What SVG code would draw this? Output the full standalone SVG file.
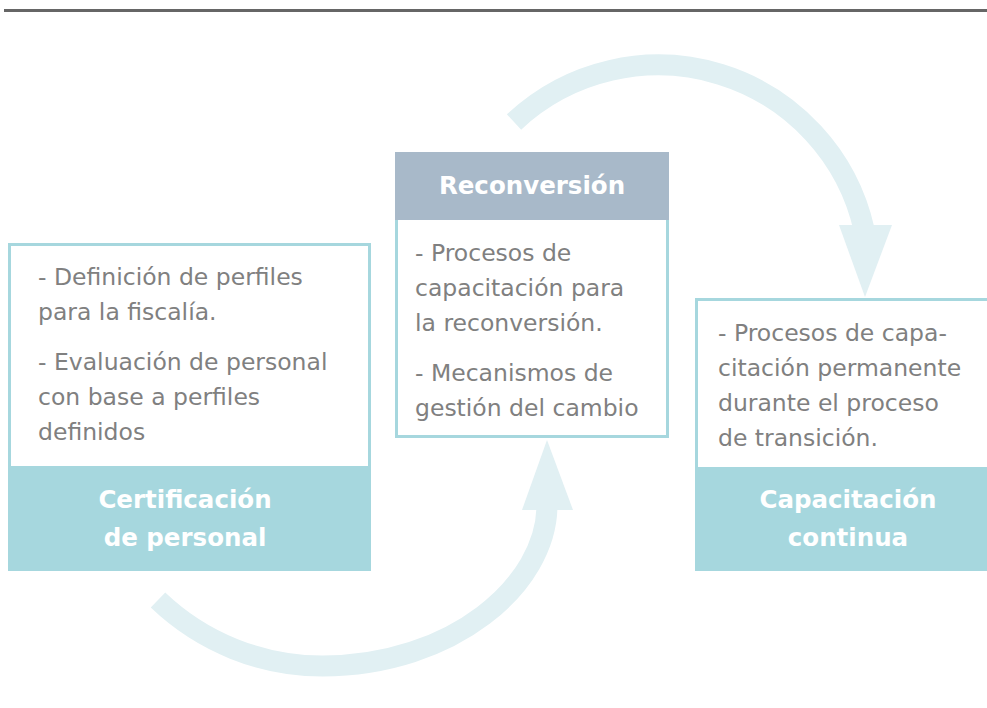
<svg xmlns="http://www.w3.org/2000/svg" width="987" height="708" viewBox="0 0 987 708">
<style>
.body{font-family:"DejaVu Sans",Verdana,sans-serif;font-size:23.5px;fill:#808080}
.title{font-family:"DejaVu Sans",Verdana,sans-serif;font-size:24.5px;font-weight:bold;fill:#ffffff;text-anchor:middle}
.frame{fill:#ffffff;stroke:#a6d7de;stroke-width:3}
.band{fill:#a6d7de}
.arc{fill:none;stroke:#e1f0f3;stroke-width:21}
.head{fill:#e1f0f3}
</style>
<rect x="0" y="0" width="987" height="708" fill="#ffffff"/>
<line x1="4" y1="10.5" x2="987" y2="10.5" stroke="#666666" stroke-width="3"/>
<g id="connectors">
<path class="arc" d="M 514 122 A 211 211 0 0 1 864.2 230"/>
<polygon class="head" points="839,225 892,225 865,297"/>
<path class="arc" d="M 158 600 A 238 238 0 0 0 322.5 666 C 452 666 547 585 547 505"/>
<polygon class="head" points="522,510 573,510 547,440"/>
</g>
<g id="certificacion">
<rect class="frame" x="9.5" y="244.5" width="360" height="325"/>
<rect class="band" x="8" y="466" width="363" height="105"/>
<text class="body" x="38" y="285">- Definición de perfiles</text>
<text class="body" x="38" y="320">para la fiscalía.</text>
<text class="body" x="38" y="370">- Evaluación de personal</text>
<text class="body" x="38" y="405">con base a perfiles</text>
<text class="body" x="38" y="440">definidos</text>
<text class="title" x="185" y="508">Certificación</text>
<text class="title" x="185" y="546">de personal</text>
</g>
<g id="reconversion">
<rect class="frame" x="396.5" y="218" width="271" height="218.5"/>
<rect x="395" y="152" width="274" height="68" fill="#a8b9c9"/>
<text class="title" x="532" y="194">Reconversión</text>
<text class="body" x="415" y="261">- Procesos de</text>
<text class="body" x="415" y="296">capacitación para</text>
<text class="body" x="415" y="331">la reconversión.</text>
<text class="body" x="415" y="381">- Mecanismos de</text>
<text class="body" x="415" y="416">gestión del cambio</text>
</g>
<g id="capacitacion">
<rect class="frame" x="696.5" y="299.5" width="300" height="270"/>
<rect class="band" x="695" y="467" width="300" height="104"/>
<text class="body" x="718" y="341">- Procesos de capa-</text>
<text class="body" x="718" y="376">citación permanente</text>
<text class="body" x="718" y="411">durante el proceso</text>
<text class="body" x="718" y="446">de transición.</text>
<text class="title" x="848" y="508">Capacitación</text>
<text class="title" x="848" y="546">continua</text>
</g>
</svg>
